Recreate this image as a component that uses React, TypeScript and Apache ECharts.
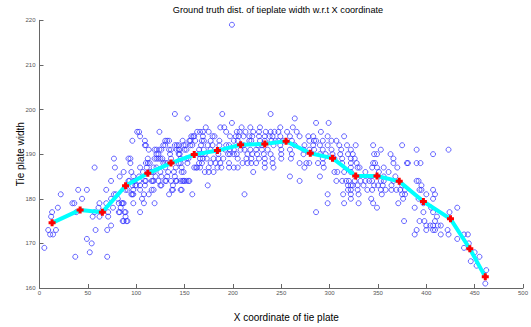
import React, { useEffect, useRef } from "react";
import * as echarts from "echarts";

const titleText = "Ground truth dist. of tieplate width w.r.t X coordinate";
const xAxisName = "X coordinate of tie plate";
const yAxisName = "Tie plate width";

// mean curve
const meanX = [13, 42, 65, 89, 112, 136, 160, 184, 208, 233, 255, 280, 303, 327, 349, 372, 397, 425, 445, 461];
const meanY = [174.6, 177.5, 177.0, 182.9, 185.7, 188.0, 189.9, 190.8, 192.1, 192.3, 192.9, 190.2, 189.1, 185.1, 185.1, 183.9, 179.4, 175.5, 168.8, 162.5];

// ground-truth samples, grouped by x region
const samplesA = [
  [5,169],[9,173],[11,172],[14,172],[17,173],[12,176],[13,177],[19,178],[22,181],[34,179],[36,179],[40,182],[44,180],[37,167],[38,177],[49,182],[57,187],[49,171],[54,170],[52,168],[58,173],[62,179],[61,178],[55,176],[62,176],[57,177],[69,182],[69,179],[71,177],[71,176],[70,173],[74,174],[70,167],[74,180],[74,184],[78,187],[77,189],[77,181],[79,181],[76,178]
];
const samplesB = [
  [81,180],[83,185],[82,179],[85,179],[86,179],[84,178],[87,186],[83,177],[88,177],[89,176],[90,175],[86,175],[91,182],[92,189],[94,189],[94,188],[93,184],[95,186],[96,181],[97,185],[97,179],[98,184],[101,195],[104,194],[96,193],[100,183],[103,185],[104,187],[104,182],[104,177],[108,179],[106,180],[108,181],[109,193],[109,192],[110,188],[112,188],[114,188],[111,187],[107,186],[109,184],[112,189],[113,191],[114,186],[116,186],[118,186],[118,187],[116,184],[118,184],[116,182],[118,182],[119,179],[120,185],[119,191],[121,191],[124,191],[126,191],[119,189],[121,189],[123,189],[125,189],[127,189],[121,190],[123,190],[124,195],[121,187],[125,186],[123,184],[126,185],[126,183],[128,192],[130,192],[130,193],[132,193],[134,193],[128,188],[130,188],[132,188],[130,187],[131,184],[132,185],[133,186],[134,191],[136,191],[135,190],[136,189],[137,182],[138,183],[140,199],[139,186],[140,185],[141,184],[141,187],[140,192],[142,192],[144,192],[142,191],[144,191],[145,191],[144,190],[145,190],[146,189],[144,188],[146,188],[147,187],[147,186],[149,186],[146,184],[148,184],[146,182],[153,198],[149,192],[151,192],[150,191],[152,191],[152,189],[154,189],[153,188],[150,184],[152,184],[155,184],[158,181],[155,193],[156,192],[158,192],[159,194],[161,193],[160,187],[162,187],
  [92,184],[103,184],[110,184],[117,184],[130,184],[136,184],[142,184],[149,184],[154,184],[96,183],[99,183],[104,183],[109,183],[125,183],[89,182],[97,182],[138,182],[147,182],[95,181],[97,181],[113,181],[134,181],[87,179],[82,177],[89,177],[87,175],[91,175],
  [103,195],[110,192],[148,193],[156,193],[163,195],[157,194]
];
const samplesC = [
  [199,219],[189,199],[239,199],[199,197],
  [172,196],[187,196],[191,196],[209,196],[218,196],[228,196],
  [166,195],[169,195],[175,195],[193,195],[204,195],[207,195],[213,195],[221,195],[227,195],[234,195],[239,195],[243,195],
  [160,194],[169,194],[179,194],[181,194],[197,194],[203,194],[206,194],[211,194],[217,194],[220,194],[227,194],[233,194],[238,194],[241,194],
  [168,193],[170,193],[177,193],[186,193],[201,193],[205,193],[217,193],[219,193],[228,193],[233,193],[240,193],[244,193],
  [167,192],[174,192],[179,192],[186,192],[193,192],[196,192],[211,192],[226,192],[230,192],[242,192],
  [165,191],[170,191],[177,191],[192,191],[197,191],[201,191],[208,191],[212,191],[218,191],[224,191],[230,191],[236,191],
  [165,190],[168,190],[171,190],[185,190],[195,190],[197,190],[201,190],[204,190],[215,190],[220,190],[225,190],[232,190],[239,190],
  [166,189],[169,189],[173,189],[180,189],[185,189],[190,189],[205,189],[214,189],[219,189],[227,189],[233,189],[241,189],
  [165,188],[168,188],[177,188],[182,188],[187,188],[196,188],[210,188],[215,188],[219,188],[224,188],[233,188],[241,188],
  [163,187],[166,187],[175,187],[184,187],[188,187],[196,187],[201,187],[205,187],[233,187],[242,187],
  [171,186],[175,186],[180,186],[221,186],[174,183],[212,181]
];
const samplesD = [
  [264,198],[286,197],[299,197],
  [249,196],[262,196],
  [247,195],[256,195],[266,195],[291,195],
  [249,194],[259,194],[269,194],[278,194],[283,194],[298,194],[315,194],
  [247,193],[252,193],[261,193],[279,193],[284,193],[286,193],[293,193],[302,193],[307,193],
  [249,192],[264,192],[274,192],[283,192],[290,192],[298,192],[310,192],[318,192],[327,192],
  [250,191],[259,191],[273,191],[279,191],[284,191],[293,191],[302,191],[312,191],[322,191],
  [250,190],[261,190],[273,190],[290,190],[296,190],[303,190],[311,190],[319,190],[324,190],
  [250,189],[260,189],[293,189],[305,189],[313,189],[322,189],[326,189],
  [269,188],[276,188],[279,188],[288,188],[293,188],[313,188],[322,188],
  [274,187],[294,187],[322,187],
  [305,186],[308,186],[315,186],[322,186],
  [259,185],[290,185],
  [269,184],[307,184],[313,184],[317,184],[320,184],[326,184],
  [319,183],[322,183],[324,183],
  [319,182],[322,182],
  [298,181],[314,181],[322,181],
  [322,180],[298,179],[315,179],[286,177]
];
const samplesE = [
  [345,192],[375,192],
  [353,191],[390,191],
  [346,190],[349,190],[363,190],[407,190],
  [366,189],
  [328,188],[345,188],[347,188],[366,188],[380,188],[381,188],[390,188],[394,188],
  [329,187],[331,187],[344,187],[349,187],[356,187],[370,187],
  [337,186],[351,186],[361,186],
  [356,185],[368,185],
  [332,184],[337,184],[341,184],[344,184],[353,184],[356,184],[366,184],[390,184],[392,184],
  [329,183],[335,183],[346,183],[350,183],[355,183],[364,183],[375,183],[395,183],
  [329,182],[339,182],[344,182],[353,182],[358,182],[364,182],[369,182],[373,182],[378,182],[393,182],[395,182],[407,182],
  [330,181],[354,181],[375,181],[378,181],[400,181],[409,181],
  [343,180],[376,180],[392,180],[407,180],
  [330,179],[345,179],[371,179],[397,179],
  [349,178],[388,178],[405,178],
  [397,177],[407,177],
  [411,176],
  [377,175],[393,175],[398,175],[409,175],
  [400,174],[404,174],[407,174],[412,174],[415,174],
  [390,173],[400,173],[407,173],[409,173],[422,173],
  [388,172],[415,172],[423,172]
];
const samplesF = [
  [423,191],[432,178],[424,177],[439,172],[443,172],[432,171],[444,170],[439,169],[450,168],[455,167],[446,166],[452,165],[462,164],[461,161]
];

const yTicks = { min: 160, max: 220, interval: 10 };
const xTicks = { min: 0, max: 500, interval: 50 };

export default function App() {
  const ref = useRef<HTMLDivElement>(null);
  useEffect(() => {
    if (!ref.current) return;
    const chart = echarts.init(ref.current, null, { renderer: "svg" });
    const samples = [...samplesA, ...samplesB, ...samplesC, ...samplesD, ...samplesE, ...samplesF];
    const mean = meanX.map((x, i) => [x, meanY[i]]);
    const font = "Liberation Sans, Arial, sans-serif";
    chart.setOption({
      animation: false,
      backgroundColor: "#ffffff",
      grid: { left: 39.5, right: 2.7, top: 20.3, bottom: 31, containLabel: false },
      graphic: [
        {
          type: "text",
          x: 278,
          y: 10,
          style: {
            text: titleText,
            fontSize: 9.2,
            fontFamily: font,
            fill: "#000",
            textAlign: "center",
            textVerticalAlign: "middle",
          },
        },
      ],
      xAxis: {
        type: "value",
        min: xTicks.min,
        max: xTicks.max,
        interval: xTicks.interval,
        name: xAxisName,
        nameLocation: "middle",
        nameGap: 24,
        nameMoveOverlap: false,
        nameTextStyle: { fontSize: 10, fontFamily: font, color: "#000", padding: [0, 0, 0, 10] },
        axisLine: { show: true, lineStyle: { color: "#666", width: 1 } },
        axisTick: { show: true, inside: true, length: 4, lineStyle: { color: "#666" } },
        axisLabel: { fontSize: 6, fontFamily: font, color: "#555", margin: 2 },
        splitLine: { show: false },
      },
      yAxis: {
        type: "value",
        min: yTicks.min,
        max: yTicks.max,
        interval: yTicks.interval,
        name: yAxisName,
        nameLocation: "middle",
        nameRotate: 90,
        nameGap: 14,
        nameMoveOverlap: false,
        nameTextStyle: { fontSize: 10, fontFamily: font, color: "#000" },
        axisLine: { show: true, lineStyle: { color: "#666", width: 1 } },
        axisTick: { show: true, inside: true, length: 4, lineStyle: { color: "#666" } },
        axisLabel: { fontSize: 6, fontFamily: font, color: "#555", margin: 4 },
        splitLine: { show: false },
      },
      series: [
        {
          type: "scatter",
          data: samples,
          symbol: "circle",
          symbolSize: 5,
          itemStyle: { color: "rgba(0,0,0,0)", borderColor: "#2a2aff", borderWidth: 0.9 },
          z: 1,
        },
        {
          type: "line",
          data: mean,
          lineStyle: { color: "#00ffff", width: 4 },
          symbol: "path://M2,0H5V2H7V5H5V7H2V5H0V2H2Z",
          symbolSize: 7,
          showSymbol: true,
          itemStyle: { color: "#ff0000" },
          z: 3,
        },
      ],
    });
    return () => chart.dispose();
  }, []);
  return (
    <div
      ref={ref}
      style={{ position: "absolute", left: 0, top: 0, width: 531, height: 327, background: "#fff" }}
    />
  );
}
